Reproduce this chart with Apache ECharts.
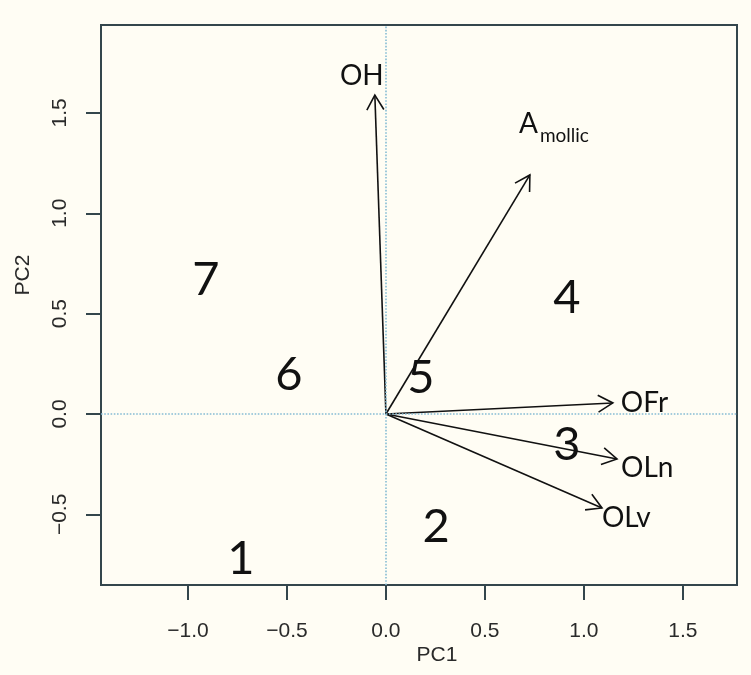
<!DOCTYPE html>
<html>
<head>
<meta charset="utf-8">
<style>
  html, body { margin: 0; padding: 0; background: #fffdf4; }
  #chart { width: 751px; height: 675px; }
</style>
<script src="https://cdn.jsdelivr.net/npm/echarts@6/dist/echarts.min.js"></script>
</head>
<body>
<div id="chart"></div>
<script>
// Site scores on the first two principal components
const siteNames = ['1', '2', '3', '4', '5', '6', '7'];
const sitePC1 = [-0.732, 0.253, 0.914, 0.914, 0.177, -0.490, -0.909];
const sitePC2 = [-0.722, -0.563, -0.154, 0.578, 0.179, 0.194, 0.668];

// Variable loadings (arrow tips)
const varNames = ['OH', 'Amollic', 'OFr', 'OLn', 'OLv'];
const loadPC1 = [-0.056, 0.727, 1.146, 1.167, 1.091];
const loadPC2 = [1.589, 1.191, 0.055, -0.224, -0.468];

// Axis ticks
const xTicks = [-1.0, -0.5, 0.0, 0.5, 1.0, 1.5];
const yTicks = [-0.5, 0.0, 0.5, 1.0, 1.5];

// Label placement around each arrow tip, in pixels
const tipLabelStyle = {
  OH:      [{ text: 'OH', dx: -13, dy: -19, align: 'center', size: 28 }],
  Amollic: [{ text: 'A', dx: -11, dy: -51, align: 'left', size: 28 },
            { text: 'mollic', dx: 10, dy: -39, align: 'left', size: 19 }],
  OFr:     [{ text: 'OFr', dx: 8, dy: 0, align: 'left', size: 28 }],
  OLn:     [{ text: 'OLn', dx: 4, dy: 9, align: 'left', size: 28 }],
  OLv:     [{ text: 'OLv', dx: 0, dy: 10, align: 'left', size: 28 }]
};

const fmt = v => (v < 0 ? '\u2212' : '') + Math.abs(v).toFixed(1);
const frameColor = '#34464c';
const ink = '#111111';
const axisInk = '#2a2a2a';

const chart = echarts.init(document.getElementById('chart'), null, { renderer: 'canvas' });

const siteData = siteNames.map((n, i) => ({ name: n, value: [sitePC1[i], sitePC2[i]] }));
const loadData = varNames.map((n, i) => ({ name: n, value: [loadPC1[i], loadPC2[i]] }));

function renderArrow(params, api) {
  const name = varNames[params.dataIndex];
  const p0 = api.coord([0, 0]);
  const p1 = api.coord([api.value(0), api.value(1)]);
  const ang = Math.atan2(p1[1] - p0[1], p1[0] - p0[0]);
  const L = 17, a = Math.PI / 6;
  const h1 = [p1[0] - L * Math.cos(ang - a), p1[1] - L * Math.sin(ang - a)];
  const h2 = [p1[0] - L * Math.cos(ang + a), p1[1] - L * Math.sin(ang + a)];
  const children = [
    { type: 'line', shape: { x1: p0[0], y1: p0[1], x2: p1[0], y2: p1[1] },
      style: { stroke: ink, lineWidth: 1.6 } },
    { type: 'polyline', shape: { points: [h1, p1, h2] },
      style: { stroke: ink, fill: null, lineWidth: 1.6 } }
  ];
  (tipLabelStyle[name] || []).forEach(t => {
    children.push({
      type: 'text',
      x: p1[0] + t.dx, y: p1[1] + t.dy,
      style: {
        text: t.text, fill: ink, align: t.align, verticalAlign: 'middle',
        fontFamily: 'Lato', fontSize: t.size
      }
    });
  });
  return { type: 'group', children };
}

chart.setOption({
  backgroundColor: '#fffdf4',
  animation: false,
  grid: {
    left: 101, right: 14, top: 25, bottom: 90,
    show: true, borderColor: frameColor, borderWidth: 2, backgroundColor: 'transparent'
  },
  xAxis: {
    type: 'value', min: -1.439, max: 1.773,
    splitLine: { show: false },
    axisLine: { show: true, onZero: false, lineStyle: { color: frameColor, width: 2 } },
    axisTick: { show: true, inside: false, length: 15, customValues: xTicks,
                lineStyle: { color: frameColor, width: 2 } },
    axisLabel: { customValues: xTicks, formatter: fmt, margin: 36,
                 fontFamily: 'Liberation Sans', fontSize: 21, color: axisInk }
  },
  yAxis: {
    type: 'value', min: -0.852, max: 1.938,
    splitLine: { show: false },
    axisLine: { show: true, onZero: false, lineStyle: { color: frameColor, width: 2 } },
    axisTick: { show: true, inside: false, length: 15, customValues: yTicks,
                lineStyle: { color: frameColor, width: 2 } },
    axisLabel: { customValues: yTicks, formatter: fmt, margin: 30, rotate: 90,
                 fontFamily: 'Liberation Sans', fontSize: 21, color: axisInk }
  },
  graphic: [
    { type: 'text', x: 437, y: 655,
      style: { text: 'PC1', align: 'center', verticalAlign: 'middle',
               fontFamily: 'Liberation Sans', fontSize: 21, fill: axisInk } },
    { type: 'text', x: 23, y: 275, rotation: Math.PI / 2,
      style: { text: 'PC2', align: 'center', verticalAlign: 'middle',
               fontFamily: 'Liberation Sans', fontSize: 21, fill: axisInk } }
  ],
  series: [
    {
      type: 'scatter', data: [], silent: true,
      markLine: {
        silent: true, symbol: 'none', label: { show: false },
        lineStyle: { color: '#86bcd4', type: 'dotted', width: 1.6 },
        data: [{ xAxis: 0 }, { yAxis: 0 }]
      }
    },
    {
      type: 'custom', renderItem: renderArrow, data: loadData, silent: true, z: 3
    },
    {
      type: 'scatter', data: siteData, symbolSize: 0, silent: true, z: 4,
      itemStyle: { opacity: 1 },
      label: {
        show: true, position: 'inside', formatter: p => p.name, opacity: 1,
        fontFamily: 'Lato', fontSize: 47, color: ink
      }
    }
  ]
});
</script>
</body>
</html>
